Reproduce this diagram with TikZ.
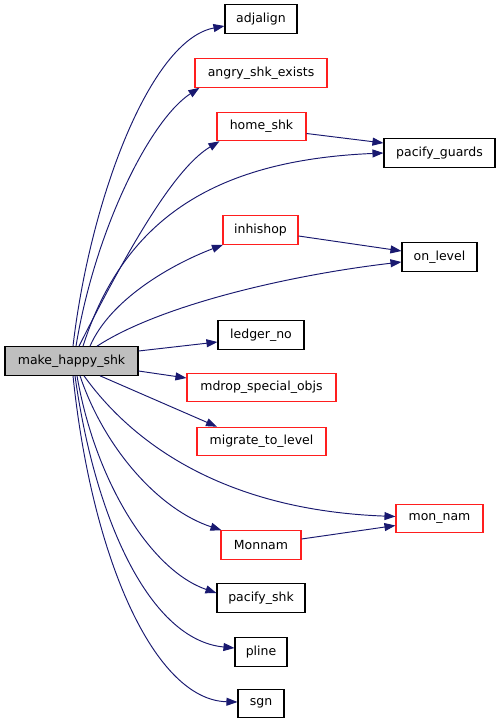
\documentclass[tikz,border=0pt]{standalone}
\usepackage{fontspec}
\setmainfont{DejaVu Sans}
\usetikzlibrary{arrows.meta}
\definecolor{edgec}{RGB}{25,25,112}
\definecolor{redbox}{RGB}{255,30,30}
\definecolor{mainfill}{RGB}{191,191,191}
\begin{document}
\begin{tikzpicture}[x=1pt,y=-1pt,
  box/.style={draw=black,line width=1.1pt,fill=white,inner sep=0pt,minimum height=28.5pt,font=\fontsize{12.5}{14}\selectfont},
  rbox/.style={box,draw=redbox},
  mainbox/.style={box,fill=mainfill},
  edge/.style={draw=edgec,line width=0.95pt,-{Triangle[length=11pt,width=8pt]}}]
\useasboundingbox[fill=white] (0,0) rectangle (501,725);
% nodes
\node[mainbox,minimum width=133pt] (main) at (71.5,361) {make\_happy\_shk};
\node[box,minimum width=72pt] (adjalign) at (261,19) {adjalign};
\node[rbox,minimum width=132pt] (angry) at (261,73) {angry\_shk\_exists};
\node[rbox,minimum width=89pt] (home) at (261.5,126.5) {home\_shk};
\node[box,minimum width=111pt] (pg) at (439.5,153) {pacify\_guards};
\node[rbox,minimum width=75pt] (inhishop) at (260.5,230) {inhishop};
\node[box,minimum width=75pt] (onlevel) at (439.5,257) {on\_level};
\node[box,minimum width=86pt] (ledger) at (261,335) {ledger\_no};
\node[rbox,minimum width=149pt] (mdrop) at (261.5,387.5) {mdrop\_special\_objs};
\node[rbox,minimum width=129pt] (migrate) at (261.5,441.5) {migrate\_to\_level};
\node[rbox,minimum width=87pt] (monnam) at (439.5,518.5) {mon\_nam};
\node[rbox,minimum width=80pt] (Monnam) at (261,545) {Monnam};
\node[box,minimum width=88pt] (pshk) at (261,598) {pacify\_shk};
\node[box,minimum width=52pt] (pline) at (261,652) {pline};
\node[box,minimum width=46pt] (sgn) at (261,703.5) {sgn};
% edges upward
\draw[edge] ([xshift=1.5pt]main.north) .. controls (90,200) and (150,40) .. ([yshift=-7pt]adjalign.west);
\draw[edge] ([xshift=4.5pt]main.north) .. controls (95,230) and (150,120) .. ([xshift=5pt]angry.south west);
\draw[edge] ([xshift=7.5pt]main.north) .. controls (140,225) and (180,165) .. ([xshift=3pt]home.south west);
\draw[edge] ([xshift=11.5pt]main.north) .. controls (125,215) and (220,160) .. (pg.west);
\draw[edge] ([yshift=-7pt]home.east) -- ([yshift=10pt]pg.west);
\draw[edge] ([xshift=18.5pt]main.north) .. controls (110,300) and (170,265) .. ([xshift=0.5pt]inhishop.south west);
\draw[edge] ([yshift=-6pt]inhishop.east) -- ([yshift=6pt]onlevel.west);
\draw[edge] ([xshift=25.5pt]main.north) .. controls (160,305) and (290,275) .. ([yshift=-5pt]onlevel.west);
% edges rightward
\draw[edge] ([yshift=10pt]main.east) -- ([yshift=-7pt]ledger.west);
\draw[edge] ([yshift=-10pt]main.east) -- ([yshift=9.5pt]mdrop.west);
\draw[edge] ([xshift=28.5pt]main.south) -- ([xshift=-44.5pt]migrate.north);
% edges downward
\draw[edge] ([xshift=12.5pt]main.south) .. controls (130,440) and (220,510) .. ([yshift=2pt]monnam.west);
\draw[edge] ([yshift=6pt]Monnam.east) -- ([yshift=-7pt]monnam.west);
\draw[edge] ([xshift=8.5pt]main.south) .. controls (105,450) and (160,510) .. ([xshift=1pt]Monnam.north west);
\draw[edge] ([xshift=5.5pt]main.south) .. controls (95,480) and (150,570) .. ([yshift=5pt]pshk.west);
\draw[edge] ([xshift=3.5pt]main.south) .. controls (95,520) and (150,640) .. ([yshift=4pt]pline.west);
\draw[edge] ([xshift=1.5pt]main.south) .. controls (92,560) and (155,700) .. ([yshift=1.5pt]sgn.west);
\end{tikzpicture}
\end{document}
